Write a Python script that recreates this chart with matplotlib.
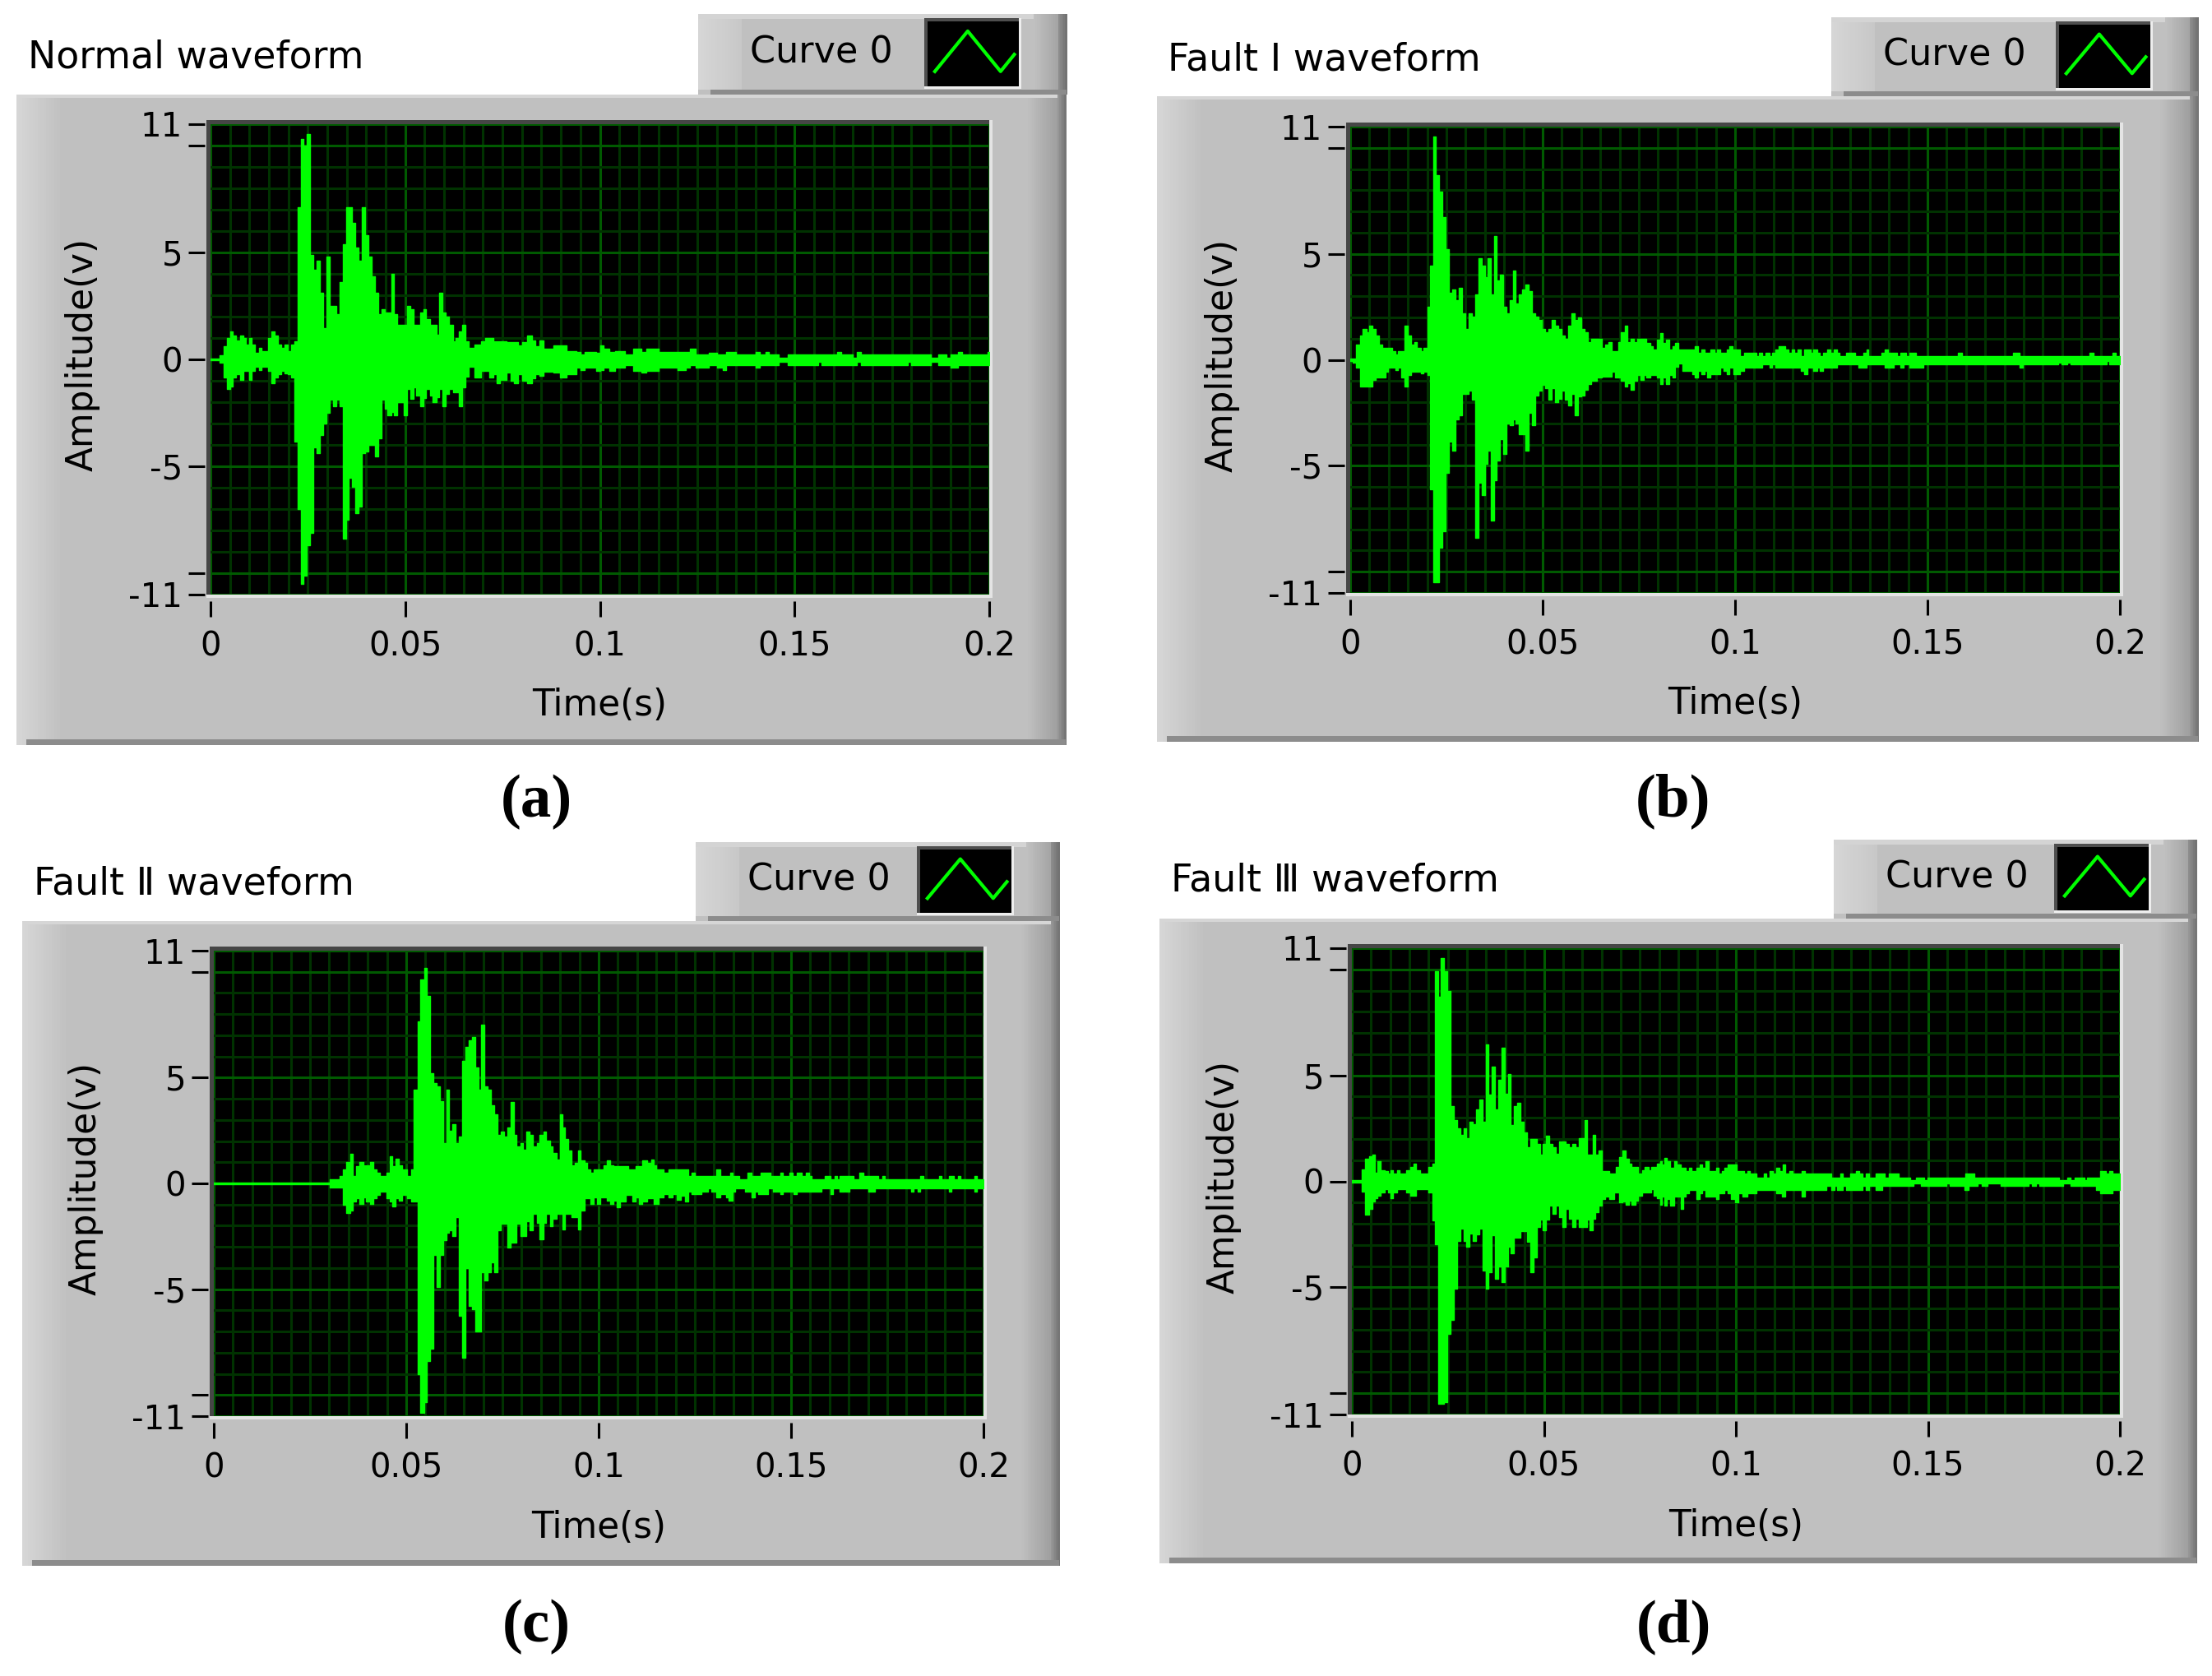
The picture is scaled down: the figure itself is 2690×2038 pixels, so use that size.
import numpy as np
import matplotlib
matplotlib.use('Agg')
import matplotlib.pyplot as plt
from matplotlib.patches import Rectangle

plt.rcParams['font.family'] = ['DejaVu Sans', 'Noto Sans CJK SC']

# ------------------------------------------------------------------ data
TITLES = ['Normal waveform', 'Fault Ⅰ waveform', 'Fault Ⅱ waveform', 'Fault Ⅲ waveform']
TAGS = ['(a)', '(b)', '(c)', '(d)']
LEGEND_LABEL = 'Curve 0'
X_LABEL = 'Time(s)'
Y_LABEL = 'Amplitude(v)'
X_TICKS = [0, 0.05, 0.1, 0.15, 0.2]
X_TICK_LABELS = ['0', '0.05', '0.1', '0.15', '0.2']
Y_TICKS = [-11, -10, -5, 0, 5, 10, 11]
Y_TICK_LABELS = ['-11', '', '-5', '0', '5', '', '11']

# time in ms, upper / lower envelope of the displayed waveform (V)
A_T = [0.0, 2.4, 3.35, 4.2, 5.0, 5.7, 6.6, 7.5, 8.4, 9.1,
       9.9, 10.6, 11.5, 12.4, 13.1, 14.8, 15.7, 16.4, 17.3, 18.2,
       19.0, 19.9, 20.6, 21.5, 22.3, 23.2, 23.9, 24.8, 25.6, 26.4,
       27.2, 28.1, 28.9, 29.7, 30.6, 31.4, 32.3, 33.1, 33.9, 34.8,
       35.5, 36.3, 37.2, 38.0, 38.8, 39.7, 40.5, 41.3, 42.2, 43.0,
       43.9, 44.7, 45.5, 46.4, 47.2, 48.0, 49.6, 50.4, 51.3, 52.1,
       52.9, 53.8, 54.6, 55.4, 56.3, 57.1, 58.0, 58.8, 59.6, 60.5,
       61.3, 62.2, 63.0, 63.8, 64.7, 65.5, 66.3, 67.7, 69.5, 70.5,
       71.6, 72.6, 73.5, 74.4, 76.1, 77, 78, 79, 80, 81.4,
       82.5, 83.5, 84.5, 85.6, 88, 89.7, 91.5, 93.9, 95, 96,
       99, 100, 101, 102.5, 104, 106.4, 108.5, 110.6, 112, 115,
       120, 122, 123.1, 124.5, 128, 130, 131.5, 132.5, 135, 140,
       141, 142.5, 143.5, 146, 148.2, 156, 157, 161, 162, 165,
       166, 167, 179, 180, 185, 187, 189, 190, 192, 193,
       199.5, 200]
A_HI = [0.05, 0.2, 0.6, 1.0, 1.3, 1.1, 0.9, 1.1, 1.0, 0.7,
        1.0, 0.7, 0.3, 0.55, 0.4, 1.0, 1.3, 1.1, 0.7, 0.55,
        0.7, 0.4, 0.7, 0.85, 7.1, 10.3, 10.0, 10.55, 4.9, 4.2,
        4.6, 3.1, 1.45, 4.8, 2.5, 2.5, 2.1, 3.6, 5.4, 7.1,
        7.1, 6.4, 5.25, 4.6, 7.1, 5.8, 4.8, 3.9, 3.1, 2.1,
        2.35, 2.2, 2.2, 4.0, 2.1, 1.6, 1.6, 2.5, 2.35, 1.6,
        1.6, 2.2, 2.35, 1.9, 1.6, 1.6, 1.15, 3.1, 2.2, 2.0,
        1.6, 0.85, 1.0, 1.3, 1.6, 0.85, 0.55, 0.7, 0.85, 1.0,
        1.0, 0.85, 0.85, 0.85, 0.8, 0.8, 0.8, 0.65, 0.8, 1.1,
        0.9, 0.6, 0.9, 0.5, 0.67, 0.67, 0.4, 0.36, 0.23, 0.36,
        0.3, 0.65, 0.5, 0.36, 0.4, 0.23, 0.5, 0.36, 0.5, 0.36,
        0.36, 0.36, 0.5, 0.23, 0.3, 0.23, 0.23, 0.36, 0.23, 0.36,
        0.23, 0.36, 0.23, 0.08, 0.23, 0.23, 0.23, 0.36, 0.23, 0.08,
        0.36, 0.23, 0.23, 0.23, 0.08, 0.23, 0.08, 0.23, 0.36, 0.23,
        0.36, 0.36]
A_LO = [-0.05, -0.15, -0.85, -1.4, -1.25, -0.85, -0.7, -0.95, -0.55, -0.55,
        -0.95, -0.55, -0.35, -0.5, -0.35, -0.55, -1.1, -0.85, -0.7, -0.55,
        -0.65, -0.7, -0.85, -3.85, -7.0, -10.5, -10.1, -8.7, -8.1, -4.1,
        -4.4, -3.55, -3.0, -2.5, -1.9, -2.2, -1.9, -2.2, -8.4, -7.5,
        -5.55, -5.95, -7.2, -6.9, -4.4, -4.3, -4.0, -4.0, -4.55, -3.7,
        -1.9, -2.3, -2.6, -2.45, -2.6, -2.0, -2.6, -1.4, -1.85, -1.3,
        -1.7, -2.2, -1.8, -1.4, -1.7, -2.0, -1.75, -1.4, -2.2, -1.6,
        -1.4, -1.55, -1.55, -2.2, -1.3, -0.8, -0.35, -0.85, -0.55, -0.55,
        -0.85, -0.7, -1.1, -0.95, -0.6, -1.0, -1.1, -0.7, -1.0, -1.1,
        -0.9, -0.7, -0.75, -0.56, -0.6, -0.84, -0.7, -0.4, -0.5, -0.39,
        -0.55, -0.5, -0.39, -0.55, -0.39, -0.26, -0.55, -0.62, -0.55, -0.39,
        -0.5, -0.39, -0.26, -0.39, -0.26, -0.39, -0.5, -0.26, -0.26, -0.39,
        -0.26, -0.26, -0.26, -0.1, -0.26, -0.1, -0.26, -0.26, -0.26, -0.26,
        -0.1, -0.26, -0.1, -0.26, -0.1, -0.26, -0.26, -0.4, -0.26, -0.26,
        -0.26, -0.26]

B_T = [0.0, 0.7, 1.6, 2.5, 3.3, 4.2, 4.9, 5.8, 6.6, 7.4,
       8.3, 9.2, 9.9, 10.8, 11.65, 12.4, 13.2, 14.05, 14.9, 15.75,
       16.6, 17.4, 18.3, 19.1, 20.0, 20.8, 21.5, 22.2, 23.1, 23.9,
       24.8, 25.6, 26.5, 27.3, 28.2, 29.0, 29.9, 30.7, 31.6, 32.4,
       33.3, 34.1, 35.0, 35.7, 36.5, 37.4, 38.1, 38.9, 39.8, 40.6,
       41.5, 42.3, 43.0, 43.9, 44.7, 45.6, 46.4, 47.2, 48.1, 48.9,
       49.8, 50.6, 51.5, 52.3, 53.2, 54.0, 54.9, 55.7, 56.6, 57.4,
       58.3, 59.1, 60.0, 60.8, 61.65, 62.5, 63.3, 64.2, 65.3, 66.2,
       67.0, 67.9, 68.7, 69.6, 70.4, 71.3, 72.1, 72.95, 73.8, 74.6,
       75.5, 76.3, 76.9, 77.9, 78.7, 79.7, 80.5, 81.1, 82.1, 82.9,
       83.7, 84.5, 85.3, 86.4, 88.8, 89.6, 90.4, 91.2, 92.0, 92.8,
       93.6, 94.6, 95.4, 96.2, 97.0, 97.8, 98.6, 99.4, 99.6, 101.2,
       102.3, 105.5, 106.3, 107.1, 107.9, 108.9, 109.7, 110.5, 111.4, 113.0,
       113.8, 114.7, 115.4, 116.2, 117.1, 118.0, 118.8, 119.6, 120.4, 121.3,
       122.1, 122.9, 124.0, 124.8, 125.6, 126.4, 127.2, 128.8, 131.2, 132.0,
       133.3, 134.1, 134.7, 138.1, 138.9, 139.7, 141.3, 142.1, 142.9, 143.7,
       144.5, 145.3, 147.1, 148.95, 157.8, 158.9, 172.3, 173.9, 174.7, 184.0,
       184.8, 186.4, 187.2, 192.2, 193.2, 196.5, 197.3, 198.1, 198.9, 200]
B_HI = [0.05, 0.07, 0.7, 1.15, 1.45, 1.3, 1.6, 1.45, 1.15, 0.7,
        0.55, 0.55, 0.55, 0.4, 0.25, 0.4, 0.4, 1.6, 1.15, 0.7,
        0.85, 0.55, 0.4, 0.55, 2.5, 4.45, 10.55, 8.7, 7.95, 6.75,
        5.2, 3.15, 3.3, 2.8, 3.4, 2.2, 1.45, 2.2, 2.05, 3.1,
        4.8, 4.45, 3.9, 4.8, 3.1, 5.85, 3.75, 4.0, 2.5, 2.2,
        2.8, 4.2, 2.65, 3.1, 3.3, 3.55, 3.25, 2.2, 2.05, 1.9,
        1.45, 1.3, 1.45, 1.9, 1.6, 1.45, 1.15, 1.0, 1.6, 2.2,
        1.9, 2.0, 1.45, 1.3, 0.85, 0.98, 0.98, 0.98, 0.55, 0.7,
        0.85, 0.4, 0.4, 0.85, 1.3, 1.6, 0.85, 1.0, 0.85, 0.98,
        0.98, 0.98, 0.8, 0.64, 0.49, 0.96, 1.26, 0.8, 0.96, 0.49,
        0.64, 0.8, 0.49, 0.49, 0.49, 0.64, 0.33, 0.49, 0.33, 0.33,
        0.49, 0.33, 0.49, 0.33, 0.33, 0.49, 0.64, 0.49, 0.49, 0.19,
        0.33, 0.19, 0.33, 0.19, 0.33, 0.19, 0.33, 0.49, 0.64, 0.49,
        0.33, 0.49, 0.33, 0.49, 0.19, 0.49, 0.49, 0.33, 0.49, 0.33,
        0.19, 0.33, 0.49, 0.33, 0.49, 0.33, 0.19, 0.33, 0.19, 0.19,
        0.33, 0.49, 0.19, 0.33, 0.49, 0.33, 0.33, 0.19, 0.33, 0.33,
        0.19, 0.33, 0.19, 0.19, 0.33, 0.19, 0.33, 0.19, 0.19, 0.19,
        0.19, 0.19, 0.19, 0.33, 0.19, 0.19, 0.19, 0.33, 0.19, 0.19]
B_LO = [-0.05, -0.15, -0.36, -1.27, -1.27, -1.27, -1.27, -0.94, -0.83, -0.83,
        -0.83, -0.55, -0.36, -0.36, -0.5, -0.36, -0.83, -1.27, -0.7, -0.55,
        -0.55, -0.55, -0.65, -0.55, -0.7, -6.1, -10.5, -10.5, -8.85, -8.1,
        -5.35, -3.85, -4.3, -2.8, -2.6, -1.6, -1.6, -1.45, -1.9, -8.4,
        -5.8, -6.4, -4.9, -4.3, -7.6, -5.7, -4.75, -3.75, -4.45, -3.0,
        -3.1, -2.8, -3.0, -3.5, -3.5, -4.3, -2.5, -3.1, -1.7, -1.45,
        -1.2, -1.35, -1.87, -1.35, -2.0, -1.85, -1.45, -1.87, -2.15, -1.6,
        -2.6, -1.72, -1.7, -1.4, -1.15, -0.98, -0.98, -0.83, -0.8, -0.8,
        -0.8, -0.55, -0.83, -0.83, -0.98, -1.27, -1.12, -1.4, -1.0, -0.72,
        -0.94, -0.72, -0.83, -0.7, -0.7, -0.83, -1.13, -0.83, -1.13, -0.7,
        -0.83, -0.32, -0.19, -0.54, -0.67, -0.83, -0.54, -0.67, -0.54, -0.83,
        -0.67, -0.67, -0.67, -0.38, -0.54, -0.67, -0.38, -0.38, -0.67, -0.54,
        -0.38, -0.38, -0.38, -0.23, -0.23, -0.38, -0.23, -0.38, -0.38, -0.38,
        -0.38, -0.38, -0.38, -0.38, -0.54, -0.67, -0.38, -0.38, -0.54, -0.38,
        -0.54, -0.38, -0.38, -0.38, -0.38, -0.23, -0.23, -0.23, -0.23, -0.38,
        -0.38, -0.23, -0.23, -0.23, -0.38, -0.38, -0.23, -0.23, -0.38, -0.23,
        -0.23, -0.38, -0.38, -0.23, -0.23, -0.23, -0.23, -0.38, -0.23, -0.13,
        -0.23, -0.13, -0.23, -0.23, -0.23, -0.06, -0.23, -0.23, -0.23, -0.23]

C_T = [0.0, 30.2, 32.7, 33.6, 34.5, 35.4, 36.1, 37.0, 37.9, 38.8,
       39.6, 40.6, 41.4, 42.3, 43.1, 44.9, 45.7, 46.4, 47.3, 48.1,
       49.0, 50.3, 51.3, 52.0, 52.9, 53.7, 54.6, 55.3, 56.1, 57.0,
       57.9, 58.7, 59.6, 60.4, 61.1, 62.0, 62.9, 63.7, 64.6, 65.4,
       66.3, 67.1, 67.9, 68.7, 69.4, 70.3, 71.1, 72.0, 72.9, 73.7,
       74.6, 75.4, 76.3, 77.1, 77.9, 78.7, 79.6, 80.4, 81.3, 82.1,
       83.0, 83.9, 84.7, 85.6, 86.4, 87.3, 88.1, 89.0, 89.9, 90.6,
       91.3, 92.1, 93.0, 93.9, 94.7, 95.4, 96.3, 97.1, 97.9, 98.7,
       99.6, 100.4, 101.3, 102.1, 103.0, 103.9, 104.7, 105.6, 107.0, 107.7,
       108.8, 109.6, 110.4, 111.3, 112.6, 113.6, 114.3, 115.0, 115.7, 116.8,
       118.2, 119.3, 120.3, 121.4, 122.5, 123.2, 124.2, 124.9, 126.7, 128.5,
       129.2, 130.6, 131.6, 133.1, 133.8, 134.1, 134.8, 135.5, 136.6, 138.0,
       138.7, 139.8, 140.5, 141.5, 142.2, 144.0, 144.7, 145.4, 147.2, 147.9,
       149.6, 150.4, 150.7, 151.4, 152.8, 153.9, 154.6, 155.3, 157.8, 158.8,
       160.2, 160.9, 161.3, 162.0, 162.7, 163.8, 164.1, 165.2, 166.2, 167.7,
       168.7, 170.1, 171.9, 172.6, 173.7, 174.4, 181.1, 181.8, 182.8, 183.5,
       184.3, 188.5, 189.2, 191.0, 191.7, 192.4, 193.4, 194.1, 197.7, 198.2,
       200]
C_HI = [0.05, 0.2, 0.35, 0.65, 1.0, 1.4, 0.35, 0.8, 1.0, 0.85,
        0.85, 1.0, 0.65, 0.5, 0.35, 0.5, 1.3, 0.8, 1.15, 0.85,
        0.65, 0.35, 0.65, 4.45, 7.65, 9.65, 10.2, 8.85, 5.2, 4.75,
        4.6, 3.9, 1.9, 4.45, 2.5, 2.8, 1.9, 2.2, 5.8, 6.45,
        6.75, 6.9, 5.5, 4.45, 7.5, 4.6, 4.45, 3.7, 3.25, 2.3,
        2.45, 2.2, 2.65, 3.85, 2.3, 1.75, 1.9, 1.6, 2.45, 2.3,
        1.75, 1.9, 2.3, 2.45, 2.03, 1.75, 1.45, 1.13, 3.25, 2.65,
        2.1, 1.57, 0.84, 0.98, 1.57, 1.09, 0.98, 0.65, 0.5, 0.65,
        0.65, 0.65, 0.84, 1.09, 0.84, 0.8, 0.8, 0.8, 0.8, 0.65,
        0.65, 0.8, 0.8, 1.09, 0.97, 1.14, 0.84, 0.68, 0.68, 0.52,
        0.68, 0.68, 0.68, 0.68, 0.68, 0.36, 0.52, 0.36, 0.36, 0.36,
        0.36, 0.68, 0.36, 0.36, 0.36, 0.52, 0.36, 0.36, 0.19, 0.19,
        0.52, 0.36, 0.36, 0.36, 0.52, 0.52, 0.36, 0.36, 0.52, 0.36,
        0.52, 0.36, 0.36, 0.52, 0.36, 0.52, 0.36, 0.19, 0.19, 0.36,
        0.19, 0.19, 0.36, 0.19, 0.36, 0.36, 0.36, 0.36, 0.19, 0.52,
        0.36, 0.36, 0.36, 0.19, 0.36, 0.19, 0.19, 0.19, 0.19, 0.36,
        0.19, 0.36, 0.19, 0.36, 0.36, 0.19, 0.36, 0.19, 0.36, 0.19,
        0.19]
C_LO = [-0.05, -0.2, -0.2, -1.0, -1.4, -1.3, -0.85, -0.7, -0.98, -0.65,
        -0.85, -0.98, -0.7, -0.55, -0.4, -0.7, -0.85, -1.1, -0.7, -0.8,
        -0.55, -0.7, -0.85, -0.85, -9.0, -10.85, -10.35, -8.4, -7.8, -3.4,
        -4.9, -3.4, -2.7, -2.35, -2.2, -2.5, -1.6, -6.25, -8.25, -4.0,
        -5.8, -5.95, -7.0, -7.0, -4.2, -4.6, -4.2, -3.75, -4.2, -2.2,
        -1.9, -1.9, -3.05, -2.8, -2.8, -1.9, -2.5, -2.5, -1.77, -2.2,
        -1.42, -1.88, -2.65, -1.88, -1.42, -2.03, -1.67, -1.45, -1.45, -2.17,
        -1.45, -1.45, -1.59, -1.59, -2.17, -1.28, -0.7, -0.7, -0.99, -0.65,
        -0.99, -0.65, -0.65, -0.8, -0.99, -0.8, -1.13, -0.84, -0.55, -0.55,
        -0.84, -0.65, -0.99, -0.84, -0.71, -0.71, -0.97, -0.97, -0.65, -0.52,
        -0.65, -0.52, -0.78, -0.58, -0.84, -0.39, -0.52, -0.52, -0.39, -0.23,
        -0.39, -0.65, -0.52, -0.65, -0.81, -0.81, -0.39, -0.23, -0.23, -0.39,
        -0.39, -0.65, -0.39, -0.52, -0.52, -0.23, -0.23, -0.39, -0.52, -0.39,
        -0.39, -0.39, -0.52, -0.39, -0.39, -0.39, -0.39, -0.39, -0.23, -0.23,
        -0.52, -0.23, -0.23, -0.23, -0.39, -0.23, -0.39, -0.23, -0.23, -0.23,
        -0.23, -0.39, -0.23, -0.23, -0.23, -0.23, -0.39, -0.23, -0.39, -0.23,
        -0.23, -0.23, -0.23, -0.39, -0.23, -0.23, -0.23, -0.23, -0.39, -0.23,
        -0.23]

D_T = [0.0, 2.5, 3.5, 4.6, 5.3, 5.9, 6.7, 7.4, 8.5, 9.4,
       10.1, 10.8, 11.7, 12.4, 14.1, 15.2, 16.05, 16.8, 17.7, 20.0,
       20.9, 21.7, 22.4, 23.1, 24.0, 24.8, 25.7, 26.5, 27.4, 28.2,
       29.1, 29.8, 30.6, 31.5, 32.3, 33.2, 34.0, 34.9, 35.6, 36.4,
       37.3, 38.1, 39.0, 39.8, 40.7, 41.4, 42.2, 43.1, 43.9, 44.8,
       45.6, 46.5, 47.3, 48.2, 49.0, 49.7, 50.6, 51.4, 52.3, 53.1,
       54.0, 54.8, 55.7, 56.5, 57.4, 58.2, 59.1, 60.5, 61.2, 61.9,
       62.7, 63.4, 64.3, 65.1, 66.0, 67.0, 68.4, 68.8, 69.7, 70.4,
       71.2, 72.1, 72.9, 73.8, 74.6, 75.5, 76.3, 77.2, 78.0, 78.6,
       79.4, 80.3, 80.7, 81.4, 82.1, 82.9, 83.85, 84.6, 85.6, 86.35,
       87.0, 87.75, 88.5, 89.7, 90.5, 91.3, 92.0, 93.0, 94.8, 95.55,
       96.3, 97.1, 97.9, 98.8, 99.8, 100.2, 100.6, 101.8, 102.2, 103.0,
       103.7, 105.3, 107.3, 108.0, 108.8, 109.6, 110.4, 110.5, 111.3, 111.9,
       112.1, 112.9, 113.9, 114.7, 117.2, 118.0, 123.6, 124.8, 125.6, 126.4,
       127.1, 127.9, 128.7, 129.7, 131.3, 132.2, 133.0, 133.8, 134.6, 136.3,
       138.1, 138.8, 139.9, 142.4, 145.5, 146.3, 147.0, 148.2, 149.0, 149.8,
       154.8, 155.6, 159.5, 159.7, 160.5, 162.2, 163.0, 164.0, 165.6, 168.9,
       176.3, 177.1, 178.2, 179.0, 184.1, 185.3, 186.4, 187.2, 188.2, 190.7,
       191.5, 193.8, 194.8, 196.3, 197.3, 198.1, 199.9, 200]
D_HI = [0.04, 0.55, 1.05, 1.2, 1.25, 0.4, 0.97, 0.54, 0.49, 0.35,
        0.54, 0.35, 0.54, 0.35, 0.54, 0.68, 0.83, 0.54, 0.35, 0.68,
        0.83, 9.9, 8.7, 10.55, 9.9, 9.0, 3.55, 2.9, 2.5, 2.2,
        2.5, 2.05, 2.8, 2.7, 3.4, 3.85, 2.8, 6.45, 4.1, 5.4,
        3.4, 4.8, 6.3, 4.15, 5.05, 2.65, 3.55, 3.7, 2.8, 2.3,
        1.6, 2.0, 2.0, 1.75, 1.25, 1.75, 2.15, 1.75, 1.6, 1.3,
        1.9, 1.9, 1.75, 1.6, 1.75, 1.6, 2.05, 2.9, 1.25, 1.25,
        2.2, 1.25, 1.45, 0.5, 0.5, 0.35, 0.35, 0.68, 1.16, 1.45,
        1.07, 0.83, 0.68, 0.68, 0.35, 0.54, 0.68, 0.54, 0.68, 0.68,
        0.83, 0.97, 0.8, 1.1, 0.94, 0.65, 0.97, 0.8, 0.65, 0.65,
        0.5, 0.65, 0.5, 0.65, 0.8, 0.65, 0.97, 0.5, 0.65, 0.36,
        0.5, 0.65, 0.8, 0.8, 0.8, 0.5, 0.5, 0.5, 0.36, 0.5,
        0.36, 0.19, 0.36, 0.19, 0.5, 0.36, 0.36, 0.65, 0.5, 0.5,
        0.8, 0.36, 0.5, 0.36, 0.5, 0.36, 0.36, 0.19, 0.19, 0.19,
        0.36, 0.19, 0.19, 0.36, 0.5, 0.36, 0.19, 0.36, 0.19, 0.36,
        0.36, 0.19, 0.36, 0.19, 0.06, 0.06, 0.19, 0.19, 0.06, 0.19,
        0.19, 0.19, 0.19, 0.36, 0.36, 0.19, 0.19, 0.19, 0.19, 0.19,
        0.19, 0.19, 0.19, 0.19, 0.06, 0.06, 0.19, 0.06, 0.19, 0.06,
        0.19, 0.19, 0.5, 0.36, 0.5, 0.36, 0.19, 0.19]
D_LO = [-0.04, -0.5, -1.57, -1.3, -0.96, -0.81, -0.67, -0.52, -0.38, -0.52,
        -0.81, -0.52, -0.38, -0.38, -0.52, -0.67, -0.67, -0.38, -0.38, -0.52,
        -1.86, -2.96, -10.5, -10.5, -10.4, -7.2, -6.55, -5.05, -2.8, -2.25,
        -2.8, -3.1, -2.45, -2.8, -2.5, -2.25, -4.2, -5.05, -4.3, -2.55,
        -4.6, -4.0, -4.75, -4.0, -3.1, -3.4, -2.65, -2.65, -2.35, -2.35,
        -2.85, -4.3, -3.6, -2.15, -1.8, -2.3, -1.8, -1.15, -1.55, -1.15,
        -1.7, -2.15, -1.3, -1.75, -2.15, -1.75, -2.15, -2.15, -1.8, -2.3,
        -1.75, -1.45, -1.15, -0.85, -0.7, -0.85, -0.52, -0.52, -0.98, -0.95,
        -1.1, -0.92, -1.1, -0.92, -0.67, -0.52, -0.52, -0.52, -0.38, -0.67,
        -0.81, -1.1, -0.7, -1.14, -0.84, -1.14, -0.71, -0.71, -1.3, -0.71,
        -0.55, -0.39, -0.39, -0.84, -0.55, -0.39, -0.71, -0.71, -0.84, -0.55,
        -0.55, -0.39, -0.55, -0.84, -1.0, -1.0, -0.55, -0.71, -0.71, -0.55,
        -0.55, -0.39, -0.39, -0.39, -0.39, -0.39, -0.55, -0.55, -0.55, -0.71,
        -0.71, -0.39, -0.39, -0.39, -0.71, -0.39, -0.23, -0.39, -0.23, -0.39,
        -0.39, -0.23, -0.39, -0.39, -0.39, -0.39, -0.23, -0.39, -0.23, -0.39,
        -0.23, -0.23, -0.23, -0.23, -0.23, -0.1, -0.1, -0.23, -0.23, -0.23,
        -0.1, -0.23, -0.39, -0.39, -0.23, -0.23, -0.1, -0.23, -0.1, -0.23,
        -0.1, -0.23, -0.1, -0.23, -0.23, -0.1, -0.1, -0.23, -0.23, -0.23,
        -0.23, -0.39, -0.55, -0.55, -0.55, -0.39, -0.23, -0.23]

SERIES = [(A_T, A_HI, A_LO), (B_T, B_HI, B_LO), (C_T, C_HI, C_LO), (D_T, D_HI, D_LO)]

# ------------------------------------------------------------------ layout (pixels)
W, H = 2690, 2038
PLOT_BOXES = [(256, 151, 1203, 723), (1642, 154, 2578, 721),
              (260, 1156, 1196, 1722), (1644, 1153, 2578, 1720)]
FRAME_BOXES = [(20, 115, 1296, 906), (1407, 117, 2673, 902),
               (27, 1120, 1288, 1904), (1410, 1117, 2671, 1901)]
LEGEND_BOXES = [(849, 17, 1297, 115), (2227, 21, 2673, 117),
                (846, 1024, 1288, 1120), (2230, 1021, 2671, 1117)]
TITLE_POS = [(34, 70), (1420, 73), (41, 1075), (1424, 1071)]
TAG_POS = [(652, 975), (2035, 974), (652, 1978), (2035, 1978)]

fig = plt.figure(figsize=(W / 100, H / 100), dpi=100, facecolor='white')
bg = fig.add_axes([0, 0, 1, 1])
bg.set_zorder(0)
bg.set_xlim(0, W)
bg.set_ylim(H, 0)
bg.set_axis_off()


def gray(v):
    return (v / 255, v / 255, v / 255)


def rect(x0, y0, x1, y1, v, z=1):
    bg.add_patch(Rectangle((x0, y0), x1 - x0, y1 - y0, facecolor=gray(v),
                           edgecolor='none', lw=0, zorder=z, antialiased=False))


def hgrad(x0, y0, x1, y1, v0, v1, z=1, n=16):
    for i in range(n):
        xa = x0 + (x1 - x0) * i / n
        xb = x0 + (x1 - x0) * (i + 1) / n
        v = v0 + (v1 - v0) * i / max(n - 1, 1)
        rect(xa, y0, xb + 0.8, y1, v, z)


def draw_frame(x0, y0, x1, y1):
    rect(x0, y0, x1, y1, 192)
    hgrad(x0, y0, x0 + 52, y1, 214, 194)
    hgrad(x1 - 48, y0, x1 - 10, y1, 192, 160)
    hgrad(x1 - 10, y0, x1, y1, 150, 118, n=5)
    rect(x0, y0, x1 - 10, y0 + 4, 214)
    rect(x0 + 12, y1 - 7, x1, y1, 140)


def draw_legend(x0, y0, x1, y1):
    rect(x0, y0, x1, y1, 192, z=1.5)
    hgrad(x0, y0, x0 + 52, y1 - 6, 214, 200, z=1.5)
    rect(x0, y0, x1 - 10, y0 + 6, 212, z=1.5)
    hgrad(x1 - 40, y0, x1 - 10, y1, 192, 165, z=1.5)
    hgrad(x1 - 10, y0, x1, y1, 140, 115, z=1.5, n=5)
    rect(x0 + 15, y1 - 6, x1, y1, 140, z=1.5)
    # swatch
    sx0, sx1 = x1 - 169, x1 - 58
    sy0, sy1 = y0 + 9, y1 - 10
    rect(sx0 - 4, sy0 - 4, sx1 + 3, sy1 + 3, 238, z=3)
    rect(sx0 - 4, sy0 - 4, sx1, sy1, 78, z=3)
    rect(sx0, sy0, sx1, sy1, 0, z=3)
    zx = [0.08, 0.44, 0.80, 0.95]
    zy = [0.77, 0.15, 0.77, 0.51]
    bg.plot([sx0 + f * (sx1 - sx0) for f in zx], [sy0 + f * (sy1 - sy0) for f in zy],
            color='#00FF00', lw=3, zorder=4)
    bg.text(x0 + 63, (y0 + y1) / 2 - 2, LEGEND_LABEL, ha='left', va='center',
            fontsize=32, color='black', zorder=5)


def draw_well(x0, y0, x1, y1):
    rect(x0 - 5, y0 - 5, x1 + 4, y1 + 4, 228, z=2)
    rect(x0 - 5, y0 - 5, x1, y1, 70, z=2)


x_minor = [i * 0.005 for i in range(41) if i % 10 != 0]
y_minor = [v for v in range(-11, 12) if v not in Y_TICKS]

for i in range(4):
    draw_frame(*FRAME_BOXES[i])
    draw_legend(*LEGEND_BOXES[i])
    draw_well(*PLOT_BOXES[i])
    tx, ty = TITLE_POS[i]
    bg.text(tx, ty, TITLES[i], ha='left', va='center', fontsize=33, color='black', zorder=5)
    cx, cy = TAG_POS[i]
    bg.text(cx, cy, TAGS[i], ha='center', va='center', fontsize=54,
            family=['Liberation Serif', 'DejaVu Serif'], weight='bold', color='black')

    x0, y0, x1, y1 = PLOT_BOXES[i]
    pw, ph = x1 - x0, y1 - y0
    ax = fig.add_axes([x0 / W, 1 - y1 / H, pw / W, ph / H])
    ax.set_zorder(3)
    ax.set_facecolor('black')
    T, HI, LO = SERIES[i]
    n = min(len(T), len(HI), len(LO))
    t = np.array(T[:n]) / 1000.0
    ax.fill_between(t, np.array(LO[:n]), np.array(HI[:n]), step='post',
                    facecolor='#00FF00', edgecolor='#00FF00', lw=1.0, zorder=3)
    ax.set_xlim(0, 0.2)
    ax.set_ylim(-11, 11)
    ax.set_xticks(X_TICKS, labels=X_TICK_LABELS)
    ax.set_yticks(Y_TICKS, labels=Y_TICK_LABELS)
    ax.set_xticks(x_minor, minor=True)
    ax.set_yticks(y_minor, minor=True)
    ax.set_axisbelow(True)
    ax.grid(which='minor', color='#003200', lw=2.2)
    ax.grid(which='major', color='#005a00', lw=2.2)
    for s in ax.spines.values():
        s.set_visible(False)
    ax.spines['bottom'].set_position(('outward', 5.8))
    ax.spines['left'].set_position(('outward', 5.0))
    ax.tick_params(which='minor', length=0)
    ax.tick_params(axis='x', which='major', direction='out', length=13.7, width=2.2,
                   color='black', pad=12, labelsize=29, labelcolor='black')
    ax.tick_params(axis='y', which='major', direction='out', length=14.4, width=2.2,
                   color='black', pad=5, labelsize=29, labelcolor='black')
    ax.set_xlabel(X_LABEL, fontsize=31.5, color='black')
    ax.set_ylabel(Y_LABEL, fontsize=31.5, color='black')
    ax.xaxis.label.set_va('center')
    ax.yaxis.label.set_va('center')
    ax.xaxis.set_label_coords(0.5, -135 / ph)
    ax.yaxis.set_label_coords(-156 / pw, 0.51)

fig.savefig('out.png', dpi=100, facecolor='white')
